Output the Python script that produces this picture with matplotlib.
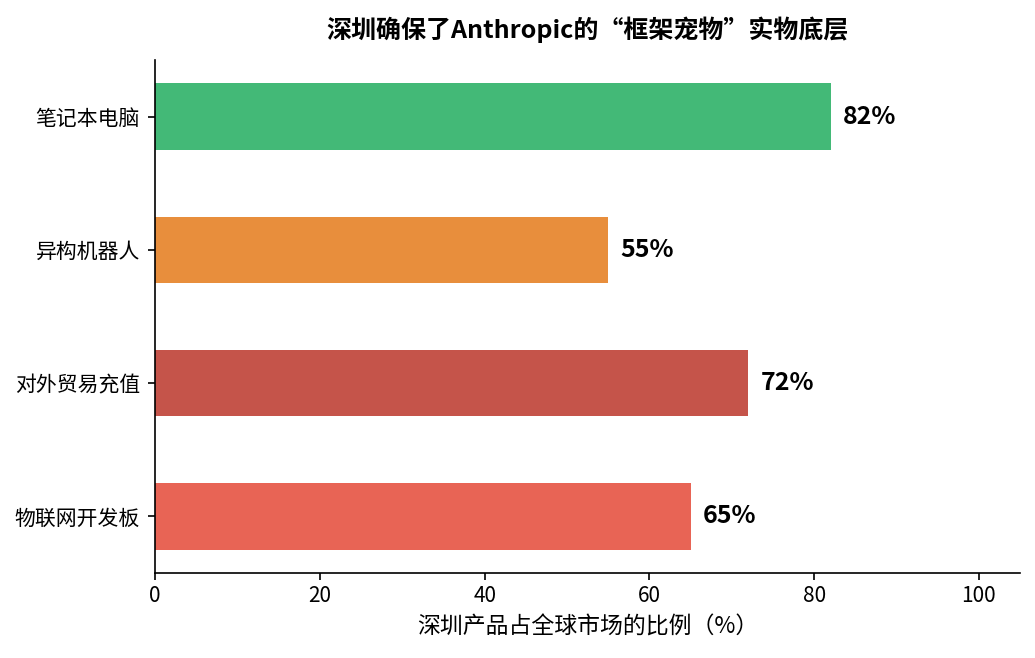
import matplotlib
matplotlib.use("Agg")
import matplotlib.pyplot as plt

plt.rcParams['font.family'] = ['Noto Sans CJK SC', 'DejaVu Sans']

categories = ['笔记本电脑', '异构机器人', '对外贸易充值', '物联网开发板']
values = [82, 55, 72, 65]
colors = ['#43b977', '#e88e3c', '#c5544a', '#e86455']
title = '深圳确保了Anthropic的“框架宠物”实物底层'
xlabel = '深圳产品占全球市场的比例（%）'

fig = plt.figure(figsize=(10.35, 6.58), dpi=100)
ax = fig.add_axes([0.15, 0.129, 0.8355, 0.78])

ypos = list(range(len(categories)))
ax.barh(ypos, values, height=0.5, color=colors)
ax.invert_yaxis()
ax.set_yticks(ypos)
ax.set_yticklabels(categories, fontsize=15)
ax.set_xlim(0, 105)
ax.set_xticks([0, 20, 40, 60, 80, 100])
ax.tick_params(axis='x', labelsize=15)
ax.tick_params(axis='both', length=5, width=1.2)
ax.tick_params(axis='y', pad=6)
for y, v in zip(ypos, values):
    ax.text(v + 1.5, y, f'{v}%', va='center', ha='left', fontsize=18, fontweight='bold')
ax.set_xlabel(xlabel, fontsize=16.5, labelpad=6)
ax.set_title(title, fontsize=18, fontweight='bold', pad=16)
ax.spines['top'].set_visible(False)
ax.spines['right'].set_visible(False)
ax.spines['left'].set_linewidth(1.2)
ax.spines['bottom'].set_linewidth(1.2)

fig.savefig('out.png', dpi=100)
